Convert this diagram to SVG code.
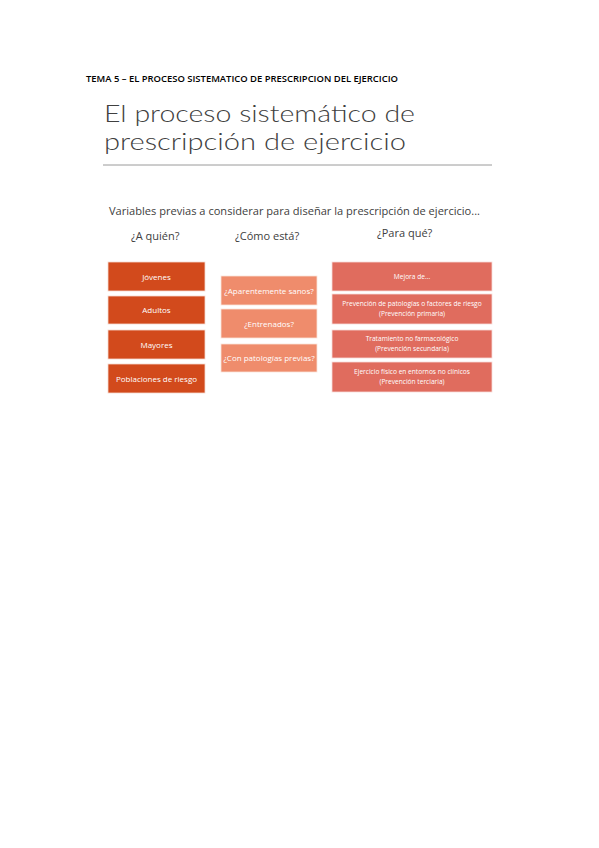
<svg xmlns="http://www.w3.org/2000/svg" width="599" height="848" viewBox="0 0 599 848">
<style>
text{font-family:"Open Sans","Liberation Sans",sans-serif}
.hdr{font-size:9px;font-weight:600;fill:#000}
.title{font-family:Lato,"Open Sans",sans-serif;font-size:23px;font-weight:300;fill:#404040}
.sub{font-size:11.5px;fill:#404040}
.col{font-size:11px;fill:#404040}
.bt{font-size:8px;fill:#fff;text-anchor:middle}
.bs{font-size:6.6px;fill:#fff;text-anchor:middle}
.a{fill:#D24A1C;stroke:#f5d9cf;stroke-width:0.8}
.b{fill:#EF8C6C;stroke:#fbe3da;stroke-width:0.8}
.c{fill:#E06C5E;stroke:#f7ddd9;stroke-width:0.8}
</style>
<rect width="599" height="848" fill="#fff"/>
<text class="hdr" x="86" y="82" textLength="312" lengthAdjust="spacingAndGlyphs">TEMA 5 – EL PROCESO SISTEMATICO DE PRESCRIPCION DEL EJERCICIO</text>
<text class="title" x="104" y="122" textLength="311" lengthAdjust="spacingAndGlyphs">El proceso sistemático de</text>
<text class="title" x="104" y="149.5" textLength="302" lengthAdjust="spacingAndGlyphs">prescripción de ejercicio</text>
<line x1="103" y1="165" x2="492" y2="165" stroke="#9a9a9a" stroke-width="1"/>
<text class="sub" x="109" y="215" textLength="371" lengthAdjust="spacingAndGlyphs">Variables previas a considerar para diseñar la prescripción de ejercicio...</text>
<text class="col" x="131" y="240">¿A quién?</text>
<text class="col" x="235" y="240">¿Cómo está?</text>
<text class="col" x="377" y="237">¿Para qué?</text>
<g id="col1">
<g id="n-jovenes"><rect class="a" x="108" y="262" width="97" height="29"/><text class="bt" x="156.5" y="279.5">Jóvenes</text></g>
<g id="n-adultos"><rect class="a" x="108" y="296" width="97" height="28"/><text class="bt" x="156.5" y="313">Adultos</text></g>
<g id="n-mayores"><rect class="a" x="108" y="330" width="97" height="29"/><text class="bt" x="156.5" y="347.5">Mayores</text></g>
<g id="n-poblaciones"><rect class="a" x="108" y="364" width="97" height="29"/><text class="bt" x="156.5" y="381.5">Poblaciones de riesgo</text></g>
</g>
<g id="col2">
<g id="n-sanos"><rect class="b" x="221" y="276" width="96" height="29"/><text class="bt" x="269" y="293.5">¿Aparentemente sanos?</text></g>
<g id="n-entrenados"><rect class="b" x="221" y="309" width="96" height="29"/><text class="bt" x="269" y="326.5">¿Entrenados?</text></g>
<g id="n-patologias"><rect class="b" x="221" y="344" width="96" height="28"/><text class="bt" x="269" y="361">¿Con patologías previas?</text></g>
</g>
<g id="col3">
<g id="n-mejora"><rect class="c" x="332" y="262" width="160" height="29"/><text class="bs" x="412" y="279">Mejora de...</text></g>
<g id="n-primaria"><rect class="c" x="332" y="294" width="160" height="30"/><text class="bs" x="412" y="306">Prevención de patologías o factores de riesgo</text><text class="bs" x="412" y="316">(Prevención primaria)</text></g>
<g id="n-secundaria"><rect class="c" x="332" y="330" width="160" height="28"/><text class="bs" x="412" y="341">Tratamiento no farmacológico</text><text class="bs" x="412" y="351">(Prevención secundaria)</text></g>
<g id="n-terciaria"><rect class="c" x="332" y="362" width="160" height="30"/><text class="bs" x="412" y="374">Ejercicio físico en entornos no clínicos</text><text class="bs" x="412" y="384">(Prevención terciaria)</text></g>
</g>
<g id="connectors"></g>
</svg>
